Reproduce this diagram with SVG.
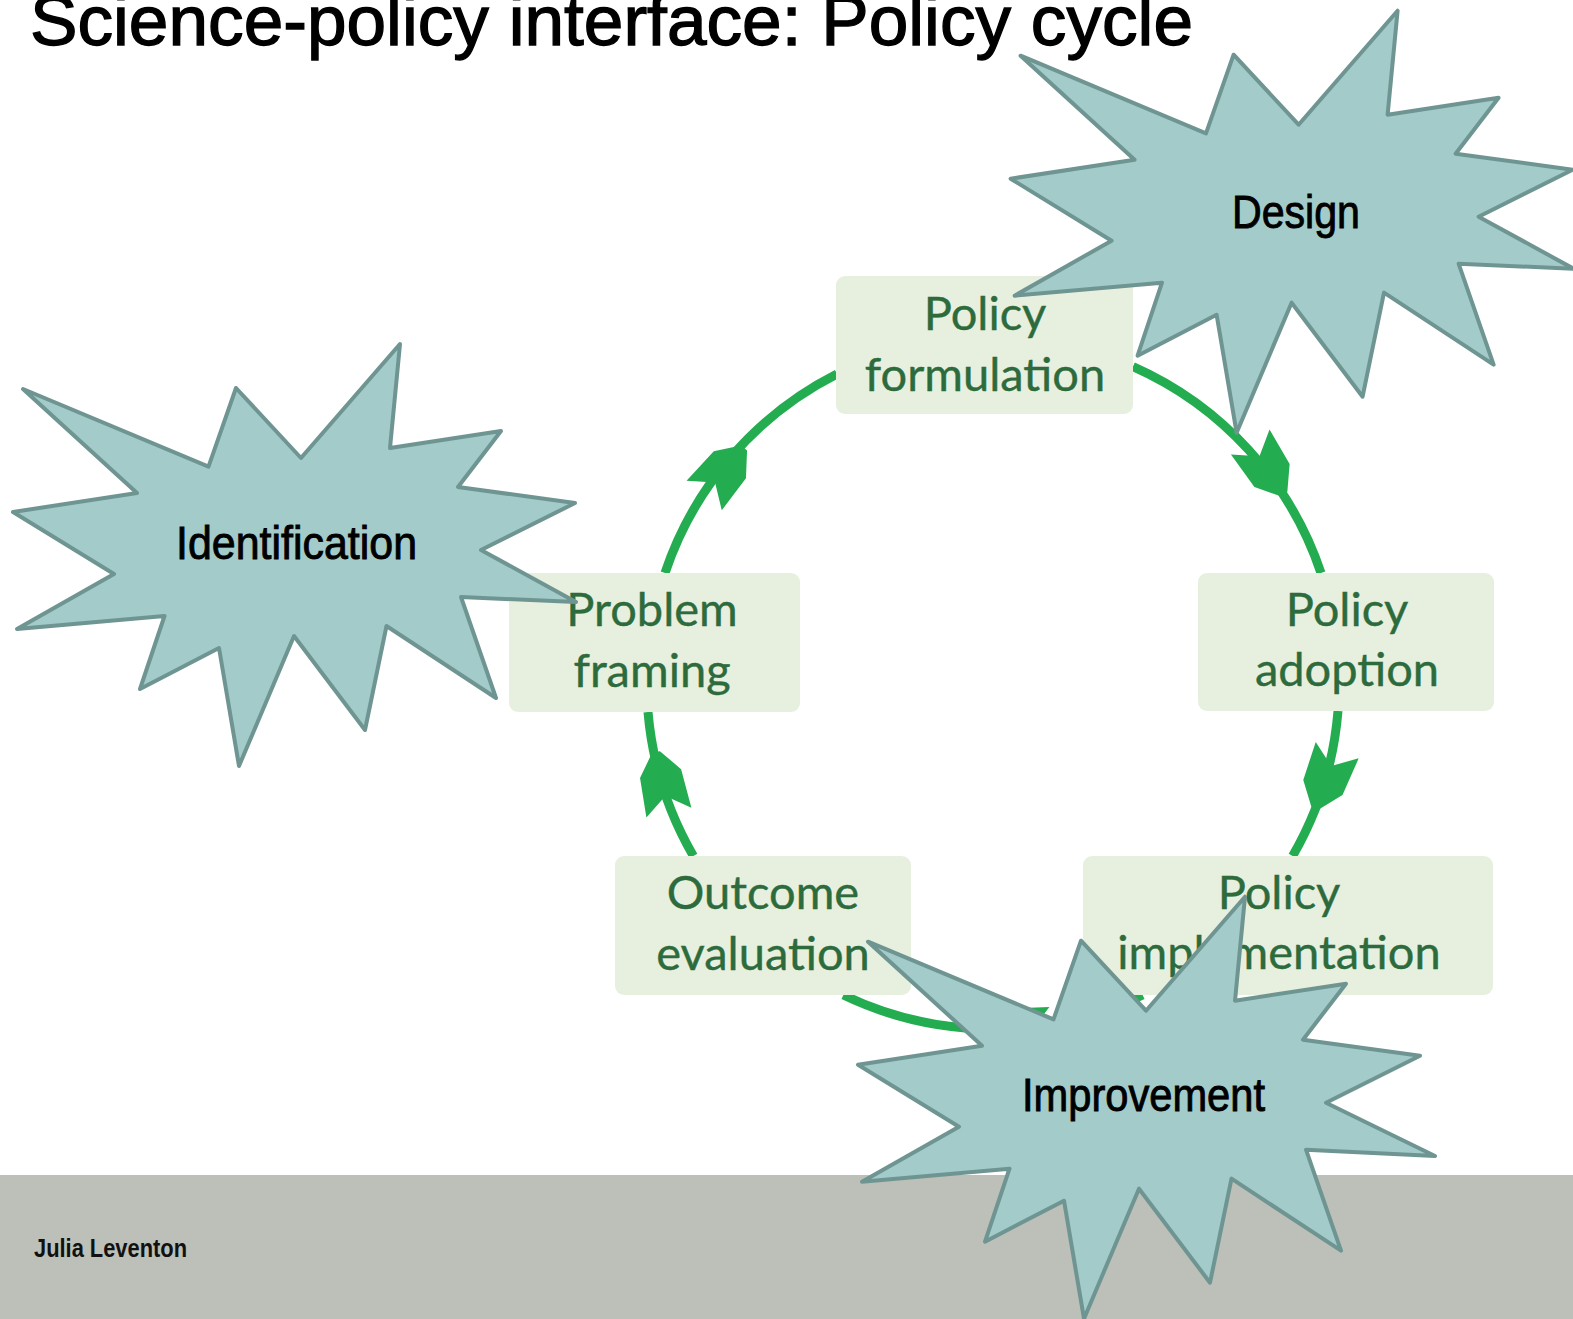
<svg xmlns="http://www.w3.org/2000/svg" xmlns:xlink="http://www.w3.org/1999/xlink" width="1573" height="1319" viewBox="0 0 1573 1319">
  <style>
    .title { font-family: 'Liberation Sans Narrow', 'Liberation Sans', Arial, sans-serif; font-size: 70px; fill: #000; stroke: #000; stroke-width: 1.3; }
    .star { fill: #A2CBC9; stroke: #6F9592; stroke-width: 4; stroke-linejoin: round; }
    .starlabel { font-family: 'Liberation Sans Narrow', 'Liberation Sans', Arial, sans-serif; font-size: 46px; fill: #000; stroke: #000; stroke-width: 0.9; text-anchor: middle; }
    .box { fill: #E7F0DE; }
    .boxtext { font-family: Lato, 'Open Sans', sans-serif; font-size: 47px; fill: #2D6B3D; stroke: #2D6B3D; stroke-width: 0.4; text-anchor: middle; }
    .arc { fill: none; stroke: #24AC50; stroke-width: 9; }
    .head { fill: #24AC50; }
    .footer { fill: #BDC0B8; }
    .author { font-family: 'Liberation Sans Narrow', 'Liberation Sans', Arial, sans-serif; font-size: 25px; font-weight: bold; fill: #111; }
  </style>
  <defs>
    <path id="ah" d="M0,-4 L-22,-21 L-62,-23 L-45,0 L-62,23 L-22,21 L0,4 Z"/>
  </defs>
  <rect x="0" y="0" width="1573" height="1319" fill="#FFFFFF"/>

  <g id="title">
    <text class="title" x="30" y="45" textLength="1163" lengthAdjust="spacingAndGlyphs">Science-policy interface: Policy cycle</text>
  </g>

  <g id="connectors">
    <path class="arc" d="M665,573 A346,346 0 0 1 837,374"/>
    <path class="arc" d="M1133,366.6 A346,346 0 0 1 1321,573"/>
    <path class="arc" d="M1338,711 A346,346 0 0 1 1292.6,856"/>
    <path class="arc" d="M1142.6,995 A346,346 0 0 1 843.4,995"/>
    <path class="arc" d="M693.4,856 A346,346 0 0 1 648,712"/>
    <use xlink:href="#ah" class="head" transform="translate(744,448) rotate(-50)"/>
    <use xlink:href="#ah" class="head" transform="translate(1284,494) rotate(57)"/>
    <use xlink:href="#ah" class="head" transform="translate(1315,808) rotate(111)"/>
    <use xlink:href="#ah" class="head" transform="translate(987,1029) rotate(181)"/>
    <use xlink:href="#ah" class="head" transform="translate(656,752) rotate(258)"/>
  </g>

  <g id="node-policy-formulation">
    <rect class="box" x="836" y="276" width="297" height="138" rx="9"/>
    <text class="boxtext" x="985" y="330">Policy</text>
    <text class="boxtext" x="985" y="391">formulation</text>
  </g>
  <g id="node-problem-framing">
    <rect class="box" x="509" y="573" width="291" height="139" rx="9"/>
    <text class="boxtext" x="652" y="626">Problem</text>
    <text class="boxtext" x="652" y="687">framing</text>
  </g>
  <g id="node-policy-adoption">
    <rect class="box" x="1198" y="573" width="296" height="138" rx="9"/>
    <text class="boxtext" x="1347" y="626">Policy</text>
    <text class="boxtext" x="1347" y="686">adoption</text>
  </g>
  <g id="node-outcome-evaluation">
    <rect class="box" x="615" y="856" width="296" height="139" rx="9"/>
    <text class="boxtext" x="763" y="909">Outcome</text>
    <text class="boxtext" x="763" y="970">evaluation</text>
  </g>
  <g id="node-policy-implementation">
    <rect class="box" x="1083" y="856" width="410" height="139" rx="9"/>
    <text class="boxtext" x="1279" y="909">Policy</text>
    <text class="boxtext" x="1279" y="969">implementation</text>
  </g>

  <g id="footer">
    <rect class="footer" x="0" y="1175" width="1573" height="144"/>
    <text class="author" x="34" y="1257" textLength="153" lengthAdjust="spacingAndGlyphs">Julia Leventon</text>
  </g>

  <g id="node-identification">
    <polygon class="star" points="23,389 208.5,466.7 236,388 301,458 400,344 390,448 501,431 458,487 575,503 481,550 576,602 461,597 496,698 386.5,626 365,730 294,636 239,766 219,648 140,689 164.5,616 17,629 114,574 13,512 137,493"/>
    <text class="starlabel" x="296.5" y="559" textLength="241" lengthAdjust="spacingAndGlyphs">Identification</text>
  </g>
  <g id="node-design">
    <polygon class="star" points="1020.6,55.7 1206,133.4 1233.6,54.7 1298.6,124.7 1397.6,10.7 1387.6,114.7 1498.6,97.7 1455.6,153.7 1572.6,169.7 1478.6,216.7 1573.6,268.7 1458.6,263.7 1493.6,364.7 1384,292.7 1362.6,396.7 1291.6,302.7 1236.6,432.7 1216.6,314.7 1137.6,355.7 1162,282.7 1014.6,295.7 1111.6,240.7 1010.6,178.7 1134.6,159.7"/>
    <text class="starlabel" x="1296" y="228" textLength="128" lengthAdjust="spacingAndGlyphs">Design</text>
  </g>
  <g id="node-improvement">
    <polygon class="star" points="868,941.7 1053.5,1019.4 1081,940.7 1146,1010.7 1245,896.7 1235,1000.7 1346,983.7 1303,1039.7 1420,1055.7 1326,1102.7 1435,1156 1306,1149.7 1341,1250.7 1231.5,1178.7 1210,1282.7 1139,1188.7 1084,1318.7 1064,1200.7 985,1241.7 1009.5,1168.7 862,1181.7 959,1126.7 858,1064.7 982,1045.7"/>
    <text class="starlabel" x="1143.5" y="1111" textLength="243" lengthAdjust="spacingAndGlyphs">Improvement</text>
  </g>
</svg>
